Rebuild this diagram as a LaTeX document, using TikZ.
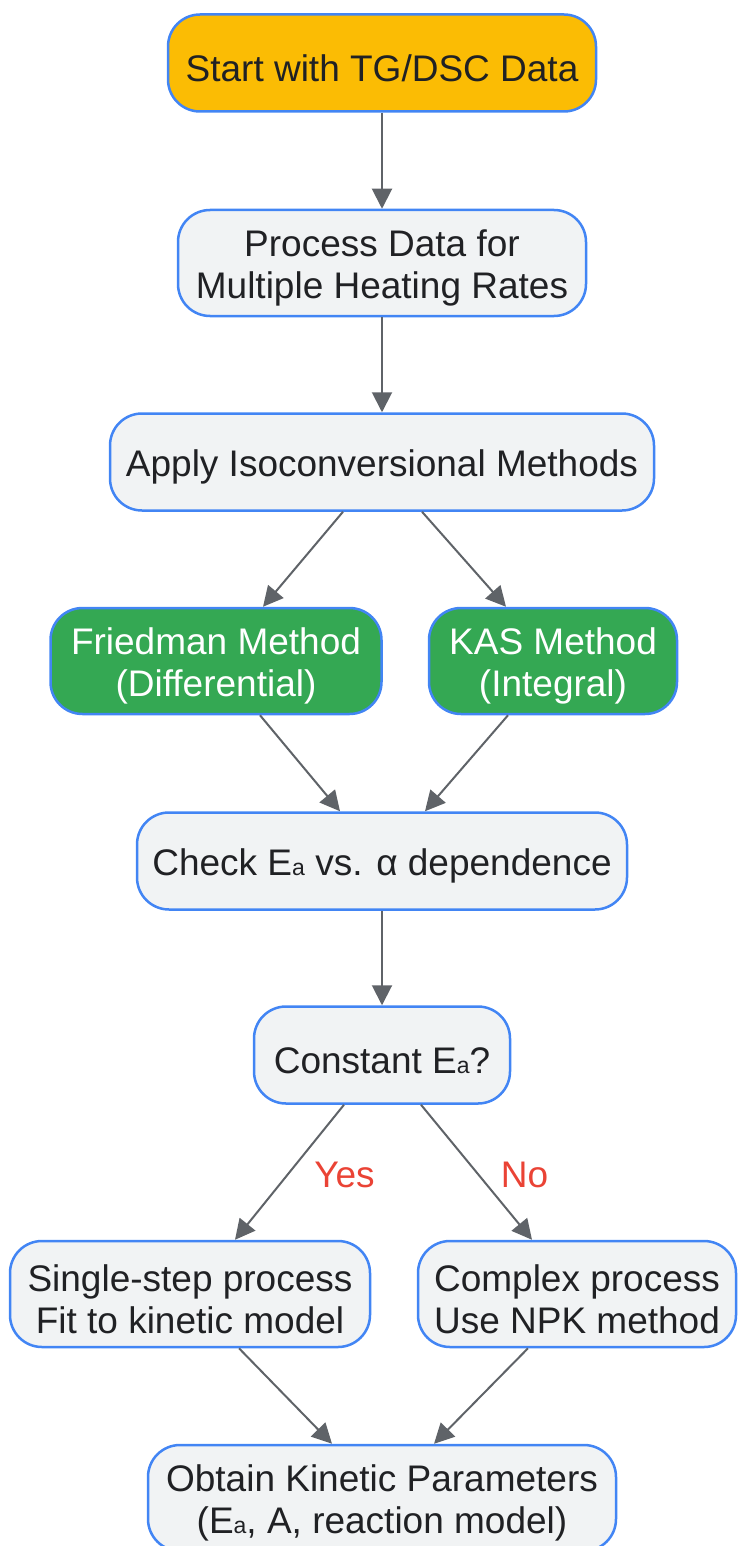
\documentclass[tikz,border=0pt]{standalone}
\usepackage{fontspec}
\setmainfont{Liberation Sans}
\usetikzlibrary{arrows.meta,calc}
\definecolor{nodeblue}{HTML}{4285F4}
\definecolor{lightfill}{HTML}{F1F3F4}
\definecolor{startfill}{HTML}{FBBC04}
\definecolor{greenfill}{HTML}{34A853}
\definecolor{textdark}{HTML}{202124}
\definecolor{edgegray}{HTML}{5F6368}
\definecolor{labelred}{HTML}{EA4335}
\newcommand{\suba}{{\fontsize{23}{23}\selectfont a}}
\newcommand{\tp}{\rule{0pt}{37pt}}
\begin{document}
\begin{tikzpicture}[x=1pt,y=-1pt,
 box/.style={draw=nodeblue, line width=2.5pt, rounded corners=32pt, fill=lightfill, text=textdark, align=center, font=\fontsize{37}{42}\selectfont, inner sep=0pt},
 startbox/.style={box, fill=startfill},
 greenbox/.style={box, fill=greenfill, text=white},
 arr/.style={draw=edgegray, line width=2pt, -{Triangle[length=20pt,width=20pt]}},
 lbl/.style={text=labelred, font=\fontsize{37}{42}\selectfont}]
\useasboundingbox (0,0) rectangle (737,1546);
\node[startbox, minimum width=428pt, minimum height=97pt] (start) at (382,63) {\tp Start with TG/DSC Data};
\node[box, minimum width=408pt, minimum height=106pt] (proc) at (382,263) {\tp Process Data for\\Multiple Heating Rates};
\node[box, minimum width=544pt, minimum height=97pt] (apply) at (382,462) {\tp Apply Isoconversional Methods};
\node[greenbox, minimum width=331pt, minimum height=106pt] (fried) at (216,661) {\tp Friedman Method\\(Differential)};
\node[greenbox, minimum width=248pt, minimum height=106pt] (kas) at (553,661) {\tp KAS Method\\(Integral)};
\node[box, minimum width=490pt, minimum height=97pt] (check) at (382,861) {\tp Check E\suba{} vs. α dependence};
\node[box, minimum width=256pt, minimum height=97pt] (const) at (382,1055) {\tp Constant E\suba?};
\node[box, minimum width=360pt, minimum height=106pt] (single) at (190,1294) {\tp Single-step process\\Fit to kinetic model};
\node[box, minimum width=318pt, minimum height=106pt] (complex) at (577,1294) {\tp Complex process\\Use NPK method};
\node[box, minimum width=468pt, minimum height=106pt] (obtain) at (382,1498) {\tp Obtain Kinetic Parameters\\(E\suba, A, reaction model)};
\draw[arr] (start) -- (proc);
\draw[arr] (proc) -- (apply);
\draw[arr] ($(apply.south)+(-39,0)$) -- ($(fried.north)+(47,0)$);
\draw[arr] ($(apply.south)+(40,0)$) -- ($(kas.north)+(-47,0)$);
\draw[arr] ($(fried.south)+(44,0)$) -- ($(check.north)+(-42,0)$);
\draw[arr] ($(kas.south)+(-45,0)$) -- ($(check.north)+(43,0)$);
\draw[arr] (check) -- (const);
\draw[arr] ($(const.south)+(-38,0)$) -- node[lbl, pos=0.5, xshift=55pt, yshift=-3pt] (yes) {Yes} ($(single.north)+(45,0)$);
\draw[arr] ($(const.south)+(39,0)$) -- node[lbl, pos=0.5, xshift=48pt, yshift=-3pt] (no) {No} ($(complex.north)+(-45,0)$);
\draw[arr] ($(single.south)+(49,0)$) -- ($(obtain.north)+(-50,0)$);
\draw[arr] ($(complex.south)+(-49,0)$) -- ($(obtain.north)+(52,0)$);
\end{tikzpicture}
\end{document}
